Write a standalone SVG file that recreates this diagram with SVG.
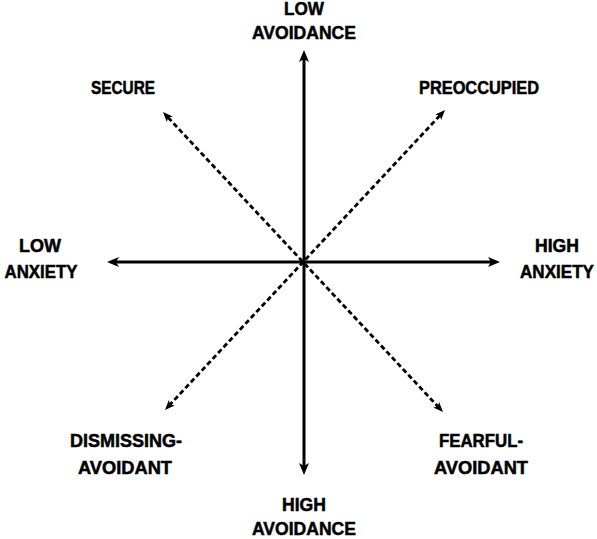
<svg xmlns="http://www.w3.org/2000/svg" width="597" height="539" viewBox="0 0 597 539">
  <defs>
    <style>
      .lbl { font-family: "Liberation Sans", Arial, sans-serif; font-weight: bold; font-size: 18px; fill: #000; stroke: #000; stroke-width: 0.5; text-anchor: middle; }
      .axis { stroke: #000; stroke-width: 3; fill: none; }
      .diag { stroke: #000; stroke-width: 2.8; fill: none; stroke-dasharray: 5 3; }
    </style>
    <marker id="headSolid" viewBox="0 0 12 10" refX="3" refY="5" markerWidth="12" markerHeight="10" markerUnits="userSpaceOnUse" orient="auto-start-reverse">
      <path d="M0,0 L12,5 L0,10 L3,5 z" fill="#000"/>
    </marker>
    <marker id="headDash" viewBox="0 0 10 8" refX="2.5" refY="4" markerWidth="10" markerHeight="8" markerUnits="userSpaceOnUse" orient="auto-start-reverse">
      <path d="M0,0 L10,4 L0,8 L2.5,4 z" fill="#000"/>
    </marker>
  </defs>
  <rect width="597" height="539" fill="#fff"/>
  <g id="connectors">
    <line class="axis" x1="304" y1="59" x2="304" y2="466" marker-start="url(#headSolid)" marker-end="url(#headSolid)"/>
    <line class="axis" x1="116" y1="262" x2="491" y2="262" marker-start="url(#headSolid)" marker-end="url(#headSolid)"/>
    <line class="diag" x1="168.1" y1="117.5" x2="437.9" y2="406.5" marker-start="url(#headDash)" marker-end="url(#headDash)"/>
    <line class="diag" x1="439.9" y1="115.5" x2="170.1" y2="404.5" marker-start="url(#headDash)" marker-end="url(#headDash)"/>
  </g>
  <g id="low-avoidance">
    <text class="lbl" x="304" y="15" textLength="40" lengthAdjust="spacingAndGlyphs">LOW</text>
    <text class="lbl" x="304" y="39" textLength="104" lengthAdjust="spacingAndGlyphs">AVOIDANCE</text>
  </g>
  <g id="secure">
    <text class="lbl" x="123" y="94" textLength="64" lengthAdjust="spacingAndGlyphs">SECURE</text>
  </g>
  <g id="preoccupied">
    <text class="lbl" x="479" y="94" textLength="120" lengthAdjust="spacingAndGlyphs">PREOCCUPIED</text>
  </g>
  <g id="low-anxiety">
    <text class="lbl" x="40" y="252" textLength="42" lengthAdjust="spacingAndGlyphs">LOW</text>
    <text class="lbl" x="41" y="278" textLength="73" lengthAdjust="spacingAndGlyphs">ANXIETY</text>
  </g>
  <g id="high-anxiety">
    <text class="lbl" x="557" y="252" textLength="44" lengthAdjust="spacingAndGlyphs">HIGH</text>
    <text class="lbl" x="557" y="278" textLength="74" lengthAdjust="spacingAndGlyphs">ANXIETY</text>
  </g>
  <g id="dismissing-avoidant">
    <text class="lbl" x="126" y="447" textLength="112" lengthAdjust="spacingAndGlyphs">DISMISSING-</text>
    <text class="lbl" x="125" y="474" textLength="94" lengthAdjust="spacingAndGlyphs">AVOIDANT</text>
  </g>
  <g id="fearful-avoidant">
    <text class="lbl" x="481" y="447" textLength="84" lengthAdjust="spacingAndGlyphs">FEARFUL-</text>
    <text class="lbl" x="481" y="474" textLength="94" lengthAdjust="spacingAndGlyphs">AVOIDANT</text>
  </g>
  <g id="high-avoidance">
    <text class="lbl" x="304" y="511" textLength="44" lengthAdjust="spacingAndGlyphs">HIGH</text>
    <text class="lbl" x="304" y="535" textLength="104" lengthAdjust="spacingAndGlyphs">AVOIDANCE</text>
  </g>
</svg>
